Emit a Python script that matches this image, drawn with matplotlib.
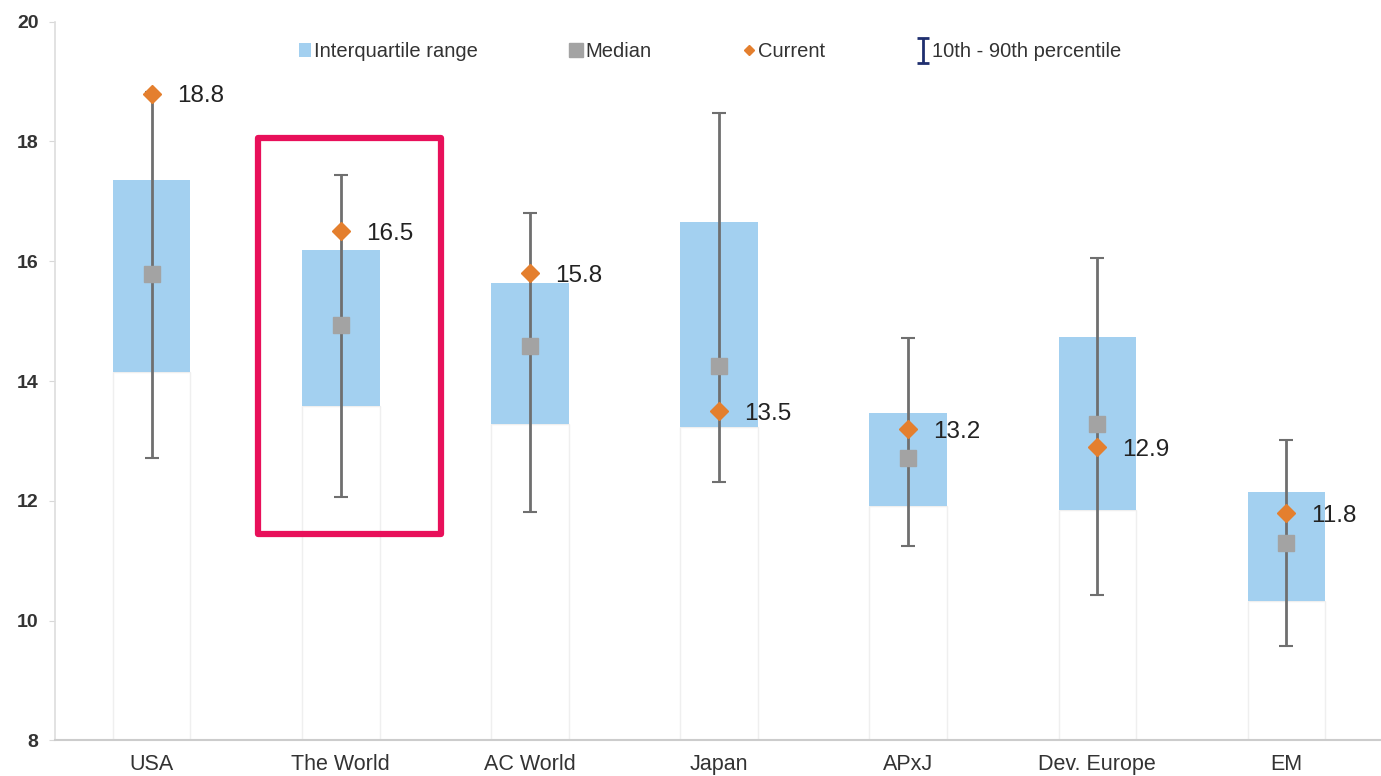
"""
Valuation ranges by region: IQR, median, current and 10th-90th percentile
"""

import matplotlib.pyplot as plt
from matplotlib.lines import Line2D
from matplotlib.patches import Patch, Rectangle
from matplotlib.path import Path

plt.rcParams["font.family"] = ["Liberation Sans", "DejaVu Sans"]

regions = ["USA", "The World", "AC World", "Japan", "APxJ", "Dev. Europe", "EM"]
iqr_low = [14.15, 13.58, 13.28, 13.23, 11.92, 11.84, 10.32]
iqr_high = [17.36, 16.19, 15.64, 16.66, 13.46, 14.73, 12.14]
median = [15.79, 14.93, 14.58, 14.25, 12.71, 13.29, 11.29]
p10 = [12.71, 12.06, 11.82, 12.31, 11.25, 10.42, 9.58]
p90 = [18.83, 17.44, 16.81, 18.48, 14.72, 16.05, 13.01]
current = [18.8, 16.5, 15.8, 13.5, 13.2, 12.9, 11.8]

BLUE = "#a3d0f0"
GREY = "#a3a3a3"
ORANGE = "#e47f2e"
WHISKER = "#6f6f6f"

fig = plt.figure(figsize=(13.81, 7.76), dpi=100)
ax = fig.add_axes([0.04, 0.046, 0.96, 0.926])

x = list(range(len(regions)))
floor = 8

# invisible lower part of the stacked bar, only a faint outline shows
ax.bar(x, [lo - floor for lo in iqr_low], bottom=floor, width=0.41,
       fill=False, edgecolor="#efefef", linewidth=1.0, zorder=1)

ax.bar(x, [hi - lo for lo, hi in zip(iqr_low, iqr_high)], bottom=iqr_low,
       width=0.41, color=BLUE, zorder=2)

ax.errorbar(x, median,
            yerr=[[m - lo for m, lo in zip(median, p10)],
                  [hi - m for m, hi in zip(median, p90)]],
            fmt="none", ecolor=WHISKER, elinewidth=2, capsize=5, capthick=1.5,
            zorder=3)

ax.plot(x, median, "s", color=GREY, markersize=11, linestyle="none", zorder=4)
ax.plot(x, current, "D", color=ORANGE, markersize=9, linestyle="none", zorder=5)

for xi, v in zip(x, current):
    ax.annotate(f"{v:.1f}", (xi, v), xytext=(18, -2), textcoords="offset points",
                va="center", ha="left", fontsize=17.5, color="#222222")

# highlight box around The World
ax.add_patch(Rectangle((0.563, 11.44), 0.967, 6.62, fill=False,
                       edgecolor="#e8105a", linewidth=4.5, zorder=6,
                       clip_on=False, joinstyle="round"))

ax.set_xlim(-0.51, 6.5)
ax.set_ylim(8, 20)
ax.set_yticks([8, 10, 12, 14, 16, 18, 20])
ax.set_xticks(x)
ax.set_xticklabels(regions)
ax.tick_params(axis="x", length=0, labelsize=15.5, labelcolor="#333333", pad=10)
ax.tick_params(axis="y", length=4, color="#d8d8d8", labelsize=14,
               labelcolor="#333333", pad=8)
for lab in ax.get_yticklabels():
    lab.set_fontweight("bold")

for side in ["top", "right"]:
    ax.spines[side].set_visible(False)
ax.spines["left"].set_color("#dddddd")
ax.spines["bottom"].set_color("#cccccc")
ax.spines["left"].set_linewidth(1.2)
ax.spines["bottom"].set_linewidth(1.5)

ibeam = Path([(-0.5, 1), (0.5, 1), (0, 1), (0, -1), (-0.5, -1), (0.5, -1)],
             [Path.MOVETO, Path.LINETO, Path.MOVETO, Path.LINETO,
              Path.MOVETO, Path.LINETO])
handles = [
    Patch(facecolor=BLUE, edgecolor="none"),
    Line2D([], [], marker="s", color=GREY, linestyle="none", markersize=10),
    Line2D([], [], marker="D", color=ORANGE, linestyle="none", markersize=5),
    Line2D([], [], marker=ibeam, color="#1f2f6f", markerfacecolor="none",
           linestyle="none", markersize=18, markeredgewidth=2),
]
labels = ["Interquartile range", "Median", "Current", "10th - 90th percentile"]
ax.legend(handles, labels, loc="upper center", bbox_to_anchor=(0.494, 0.997),
          ncol=4, frameon=False, fontsize=14.5, handlelength=0.6,
          handletextpad=0.15, columnspacing=4.55, labelcolor="#333333")

fig.savefig("out.png", dpi=100)
